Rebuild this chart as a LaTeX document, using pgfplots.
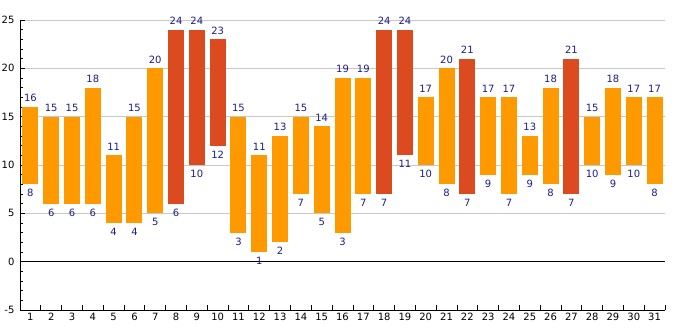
\documentclass[border=0pt]{standalone}
\usepackage{fontspec}
\setmainfont{DejaVu Sans}
\usepackage{pgfplots}
\usepackage{pgfplotstable}
\pgfplotsset{compat=1.18}
\definecolor{barorange}{HTML}{FF9900}
\definecolor{barred}{HTML}{DC4A20}
\definecolor{labnavy}{HTML}{1C1C8C}
\definecolor{gridgray}{HTML}{C8C8C8}

\pgfplotstableread{
day low high
1 8 16
2 6 15
3 6 15
4 6 18
5 4 11
6 4 15
7 5 20
8 6 24
9 10 24
10 12 23
11 3 15
12 1 11
13 2 13
14 7 15
15 5 14
16 3 19
17 7 19
18 7 24
19 11 24
20 10 17
21 8 20
22 7 21
23 9 17
24 7 17
25 9 13
26 8 18
27 7 21
28 10 15
29 9 18
30 10 17
31 8 17
}\alldata

\pgfplotstableread{
day low high
1 8 16
2 6 15
3 6 15
4 6 18
5 4 11
6 4 15
7 5 20
11 3 15
12 1 11
13 2 13
14 7 15
15 5 14
16 3 19
17 7 19
20 10 17
21 8 20
23 9 17
24 7 17
25 9 13
26 8 18
28 10 15
29 9 18
30 10 17
31 8 17
}\orangedata

\pgfplotstableread{
day low high
8 6 24
9 10 24
10 12 23
18 7 24
19 11 24
22 7 21
27 7 21
}\reddata

\begin{document}
\begin{tikzpicture}
\useasboundingbox (-20pt,-20pt) rectangle (665pt,310pt);
\begin{axis}[
  at={(0,0)}, anchor=south west,
  scale only axis,
  width=645pt, height=290pt,
  xmin=0.5, xmax=31.5,
  ymin=-5, ymax=25,
  axis x line*=bottom, axis y line*=left,
  axis line style={line width=0.8pt, black},
  tick align=inside,
  major tick length=5pt, minor tick length=3pt,
  every tick/.style={black, line width=0.8pt},
  xtick={0.5,1.5,...,31.5},
  xticklabels={1,2,3,4,5,6,7,8,9,10,11,12,13,14,15,16,17,18,19,20,21,22,23,24,25,26,27,28,29,30,31,{}},
  xticklabel style={xshift=10.4pt, font=\fontsize{10}{12}\selectfont},
  ytick={-5,0,5,10,15,20,25},
  yticklabels={-5,0,5,10,15,20,25},
  yticklabel style={font=\fontsize{10}{12}\selectfont, xshift=-2pt},
  minor y tick num=4,
  ymajorgrids,
  grid style={gridgray, line width=0.8pt},
  clip=false,
]
\addplot[black, line width=0.8pt, mark=none] coordinates {(0.5,0) (31.5,0)};

\addplot[draw=none, mark=none,
  error bars/.cd, y dir=plus, y explicit, error mark=none,
  error bar style={line width=16pt, draw=barorange}]
  table[x=day, y=low, y error expr=\thisrow{high}-\thisrow{low}] {\orangedata};

\addplot[draw=none, mark=none,
  error bars/.cd, y dir=plus, y explicit, error mark=none,
  error bar style={line width=16pt, draw=barred}]
  table[x=day, y=low, y error expr=\thisrow{high}-\thisrow{low}] {\reddata};

\addplot[draw=none, mark=none, nodes near coords, point meta=explicit symbolic,
  nodes near coords style={anchor=south, yshift=1.5pt, text=labnavy, font=\fontsize{10}{12}\selectfont}]
  table[x=day, y=high, meta=high] {\alldata};

\addplot[draw=none, mark=none, nodes near coords, point meta=explicit symbolic,
  nodes near coords style={anchor=north, yshift=-1.5pt, text=labnavy, font=\fontsize{10}{12}\selectfont}]
  table[x=day, y=low, meta=low] {\alldata};
\end{axis}
\end{tikzpicture}
\end{document}
